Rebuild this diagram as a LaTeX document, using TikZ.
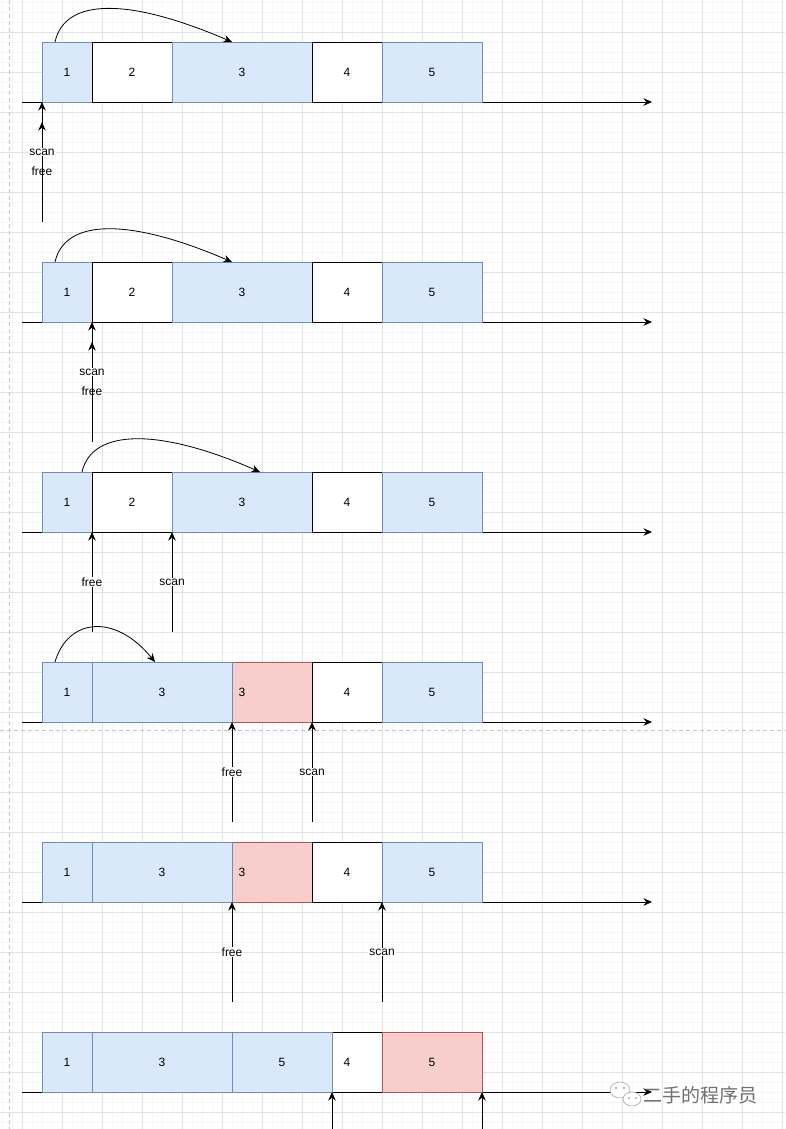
\documentclass[tikz,border=0pt]{standalone}
\usepackage{fontspec}
\setmainfont{Liberation Sans}
\newfontfamily\cjkfont{Noto Sans CJK SC}
\usetikzlibrary{arrows.meta}
\definecolor{bfill}{HTML}{DAE8FC}
\definecolor{bdraw}{HTML}{6C8EBF}
\definecolor{rfill}{HTML}{F8CECC}
\definecolor{rdraw}{HTML}{B85450}
\definecolor{gmajor}{HTML}{E2E2E2}
\definecolor{gminor}{HTML}{F7F7F7}
\definecolor{guide}{HTML}{C4C4C4}
\definecolor{wmark}{HTML}{707070}
\newcommand\cell[6]{\node[#1,minimum width=#5] (#2) at (#3,#4) {#6};}
\begin{document}
\begin{tikzpicture}[x=1pt,y=-1pt,
  cellbox/.style={rectangle, minimum height=60, inner sep=0pt, outer sep=0pt, anchor=north west, line width=0.8pt, font=\fontsize{12}{14}\selectfont},
  bl/.style={cellbox, draw=bdraw, fill=bfill},
  wh/.style={cellbox, draw=black, fill=white},
  rd/.style={cellbox, draw=rdraw, fill=rfill},
  axis/.style={line width=0.8pt, -{Stealth[length=8.5pt,width=7.5pt]}},
  ptr/.style={line width=0.8pt, -{Stealth[length=8.5pt,width=7.5pt]}},
  jump/.style={line width=0.8pt, -{Stealth[length=8.5pt,width=7.5pt]}},
  lbl/.style={fill=white, inner sep=1pt, font=\fontsize{12}{14}\selectfont},
]
\useasboundingbox (0,0) rectangle (785,1129);
\fill[white] (0,0) rectangle (785,1129);
% grid
\foreach \i in {0,...,78} \draw[gminor, line width=0.6pt] ({2.7+10*\i},0) -- ({2.7+10*\i},1129);
\foreach \i in {0,...,113} \draw[gminor, line width=0.6pt] (0,{2.5+10*\i}) -- (785,{2.5+10*\i});
\foreach \i in {0,...,19} \draw[gmajor, line width=0.7pt] ({22.7+40*\i},0) -- ({22.7+40*\i},1129);
\foreach \i in {0,...,28} \draw[gmajor, line width=0.7pt] (0,{32.5+40*\i}) -- (785,{32.5+40*\i});
% page guides
\draw[guide, line width=0.7pt, dash pattern=on 4pt off 3pt] (9.5,0) -- (9.5,1129);
\draw[guide, line width=0.7pt, dash pattern=on 4pt off 3pt] (0,730) -- (785,730);

% axes
\foreach \n/\y in {1/102, 2/322, 3/532, 4/722, 5/902, 6/1092} {
  \coordinate (ax\n l) at (22,\y);
  \coordinate (ax\n r) at (652,\y);
  \draw[axis] (ax\n l) -- (ax\n r);
}

% row 1
\cell{bl}{a1}{42}{42}{50}{1}
\cell{wh}{a2}{92}{42}{80}{2}
\cell{bl}{a3}{172}{42}{140}{3}
\cell{wh}{a4}{312}{42}{70}{4}
\cell{bl}{a5}{382}{42}{100}{5}
% row 2
\cell{bl}{b1}{42}{262}{50}{1}
\cell{wh}{b2}{92}{262}{80}{2}
\cell{bl}{b3}{172}{262}{140}{3}
\cell{wh}{b4}{312}{262}{70}{4}
\cell{bl}{b5}{382}{262}{100}{5}
% row 3
\cell{bl}{c1}{42}{472}{50}{1}
\cell{wh}{c2}{92}{472}{80}{2}
\cell{bl}{c3}{172}{472}{140}{3}
\cell{wh}{c4}{312}{472}{70}{4}
\cell{bl}{c5}{382}{472}{100}{5}
% row 4
\cell{bl}{d1}{42}{662}{50}{1}
\cell{rd}{d3}{172}{662}{140}{3}
\cell{wh}{d4}{312}{662}{70}{4}
\cell{bl}{d5}{382}{662}{100}{5}
\cell{bl}{d2}{92}{662}{140}{3}
% row 5
\cell{bl}{e1}{42}{842}{50}{1}
\cell{rd}{e3}{172}{842}{140}{3}
\cell{wh}{e4}{312}{842}{70}{4}
\cell{bl}{e5}{382}{842}{100}{5}
\cell{bl}{e2}{92}{842}{140}{3}
% row 6
\cell{bl}{f1}{42}{1032}{50}{1}
\cell{bl}{f2}{92}{1032}{140}{3}
\cell{wh}{f4}{312}{1032}{70}{4}
\cell{bl}{f3}{232}{1032}{100}{5}
\cell{rd}{f5}{382}{1032}{100}{5}

% forwarding curves
\coordinate (j1s) at (55,42);   \coordinate (j1e) at (232,42);
\draw[jump] (j1s) .. controls (65,-3) and (130,-2) .. (j1e);
\coordinate (j2s) at (55,262);  \coordinate (j2e) at (232,262);
\draw[jump] (j2s) .. controls (65,218) and (130,218) .. (j2e);
\coordinate (j3s) at (82,472);  \coordinate (j3e) at (260,472);
\draw[jump] (j3s) .. controls (92,428) and (160,428) .. (j3e);
\coordinate (j4s) at (55,662);  \coordinate (j4e) at (155,662);
\draw[jump] (j4s) .. controls (68,618) and (115,613) .. (j4e);

% pointers row 1
\coordinate (p1f) at (42,222);
\draw[ptr] (p1f) -- node[lbl, pos=0.425] {free} (a1.south west);
\coordinate (p1s) at (42,182); \coordinate (p1t) at (42,122);
\draw[ptr] (p1s) -- node[lbl, pos=0.5] {scan} (p1t);
% pointers row 2
\coordinate (p2f) at (92,442);
\draw[ptr] (p2f) -- node[lbl, pos=0.425] {free} (b2.south west);
\coordinate (p2s) at (92,402); \coordinate (p2t) at (92,342);
\draw[ptr] (p2s) -- node[lbl, pos=0.5] {scan} (p2t);
% pointers row 3
\coordinate (p3f) at (92,632); \coordinate (p3s) at (172,632);
\draw[ptr] (p3f) -- node[lbl, pos=0.5] {free} (c2.south west);
\draw[ptr] (p3s) -- node[lbl, pos=0.5] {scan} (c3.south west);
% pointers row 4
\coordinate (p4f) at (232,822); \coordinate (p4s) at (312,822);
\draw[ptr] (p4f) -- node[lbl, pos=0.5] {free} (d2.south east);
\draw[ptr] (p4s) -- node[lbl, pos=0.5] {scan} (d4.south west);
% pointers row 5
\coordinate (p5f) at (232,1002); \coordinate (p5s) at (382,1002);
\draw[ptr] (p5f) -- node[lbl, pos=0.5] {free} (e2.south east);
\draw[ptr] (p5s) -- node[lbl, pos=0.5] {scan} (e5.south west);
% pointers row 6
\coordinate (p6f) at (332,1140); \coordinate (p6s) at (482,1140);
\draw[ptr] (p6f) -- (f3.south east);
\draw[ptr] (p6s) -- (f5.south east);

% watermark
\draw[wmark!60, fill=white, line width=0.6pt] (620,1090) ellipse [x radius=10, y radius=8];
\draw[wmark!60, fill=white, line width=0.6pt] (632,1099) ellipse [x radius=9, y radius=7];
\fill[wmark!70] (616,1088) circle (1.1) (624,1088) circle (1.1) (629,1098) circle (1) (636,1098) circle (1);
\node[text=wmark, anchor=west, inner sep=0pt, font=\cjkfont\fontsize{19}{21}\selectfont] (wm) at (643,1095) {二手的程序员};
\end{tikzpicture}
\end{document}
